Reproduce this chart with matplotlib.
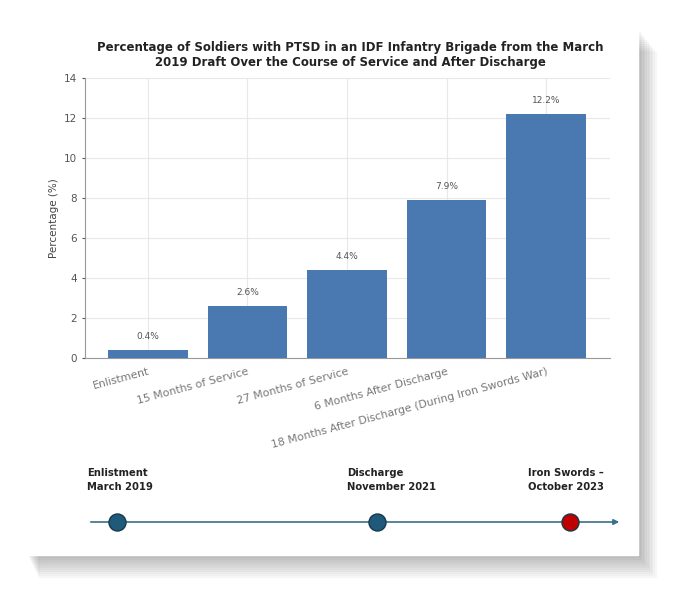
import matplotlib.pyplot as plt
from matplotlib.patches import Rectangle

categories = ['Enlistment', '15 Months of Service', '27 Months of Service',
              '6 Months After Discharge', '18 Months After Discharge (During Iron Swords War)']
values = [0.4, 2.6, 4.4, 7.9, 12.2]
events = ['Enlistment\nMarch 2019', 'Discharge\nNovember 2021', 'Iron Swords –\nOctober 2023']
event_pos = [117, 377, 570]          # pixel x of timeline dots
event_colors = ['#1f5a7a', '#1f5a7a', '#c00000']

W, H = 700, 616
fig = plt.figure(figsize=(7, 6.16), dpi=100, facecolor='white')

# soft shadow + white panel
for i in range(12):
    d = 22 - 2 * i
    fig.patches.append(Rectangle(((28 + d * 0.5) / W, 1 - (555 + d) / H), (610 + d * 0.3) / W, 525 / H,
                                 transform=fig.transFigure, color='black', alpha=0.025, zorder=0))
fig.patches.append(Rectangle((28 / W, 1 - 555 / H), 610 / W, 525 / H,
                             transform=fig.transFigure, color='white', zorder=1))

ax = fig.add_axes([85 / W, 1 - 358 / H, 525 / W, 280 / H])
ax.set_zorder(2)
ax.patch.set_alpha(0)
x = range(len(categories))
ax.bar(x, values, width=0.8, color='#4a78b0', zorder=3)
for xi, v in zip(x, values):
    ax.text(xi, v + 0.45, f'{v}%', ha='center', va='bottom', fontsize=6.5, color='#555555')
ax.set_xlim(-0.63, 4.64)
ax.set_ylim(0, 14)
ax.set_yticks(range(0, 15, 2))
ax.tick_params(axis='y', labelsize=7.5, colors='#555555', length=2)
ax.tick_params(axis='x', length=0, pad=6)
ax.set_xticks(list(x))
ax.set_xticklabels(categories, rotation=15, ha='right', fontsize=7.8, color='#777777',
                   rotation_mode='anchor')
ax.set_ylabel('Percentage (%)', fontsize=7.5, color='#444444')
ax.grid(True, color='#e8e8e8', linewidth=0.8, zorder=0)
for s in ['top', 'right']:
    ax.spines[s].set_visible(False)
ax.spines['left'].set_color('#999999')
ax.spines['bottom'].set_color('#999999')

fig.text(350 / W, 1 - 55 / H,
         'Percentage of Soldiers with PTSD in an IDF Infantry Brigade from the March\n'
         '2019 Draft Over the Course of Service and After Discharge',
         ha='center', va='center', fontsize=8.5, fontweight='bold', color='#222222', zorder=5)

# timeline
tl = fig.add_axes([0, 0, 1, 1])
tl.set_zorder(3)
tl.patch.set_alpha(0)
tl.set_xlim(0, W)
tl.set_ylim(H, 0)
tl.axis('off')
tl.annotate('', xy=(622, 522), xytext=(88, 522),
            arrowprops=dict(arrowstyle='-|>', color='#3b6f8a', lw=1.2, mutation_scale=8))
for px, lab, c in zip(event_pos, events, event_colors):
    tl.scatter([px], [522], s=150, color=c, edgecolor='#17394d', linewidth=1, zorder=4)
    tl.text(px - 30 if px < 500 else px - 42, 480, lab, ha='left', va='center',
            fontsize=7.2, fontweight='bold', color='#222222', linespacing=1.4)

fig.savefig('out.png', dpi=100, facecolor='white')
